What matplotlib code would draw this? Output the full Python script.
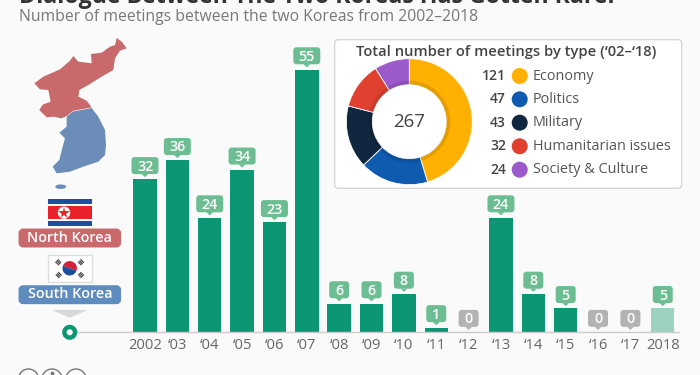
import matplotlib
matplotlib.use('Agg')
import matplotlib.pyplot as plt
from matplotlib.patches import Circle, Ellipse, FancyBboxPatch, Polygon, Rectangle, Wedge

plt.rcParams['font.family'] = ['Open Sans', 'DejaVu Sans']

# Data
years = ['2002', '‘03', '‘04', '‘05', '‘06', '‘07', '‘08', '‘09', '‘10', '‘11', '‘12',
         '‘13', '‘14', '‘15', '‘16', '‘17', '2018']
meetings = [32, 36, 24, 34, 23, 55, 6, 6, 8, 1, 0, 24, 8, 5, 0, 0, 5]
types = ['Economy', 'Politics', 'Military', 'Humanitarian issues', 'Society & Culture']
type_counts = [121, 47, 43, 32, 24]
type_colors = ['#ffb000', '#0f5bb0', '#10273f', '#e0402f', '#9b59c9']

BG = '#fafafa'
GREEN = '#0d9673'
LIGHT = '#9dd2c0'
LABEL_GREEN = '#6dbd93'
LABEL_GREY = '#b3b3b3'

fig = plt.figure(figsize=(7, 3.75), dpi=100, facecolor=BG)

# Overlay in pixel coordinates for the decoration
bg = fig.add_axes([0, 0, 1, 1])
bg.set_xlim(0, 700)
bg.set_ylim(375, 0)
bg.axis('off')

bg.text(19, 3, 'Dialogue Between The Two Koreas Has Gotten Rarer', fontsize=16.7,
        fontweight='bold', color='#333333', va='baseline', ha='left')
bg.text(19, 17, 'Number of meetings between the two Koreas from 2002–2018', fontsize=11.3,
        color='#787878', va='center', ha='left')

# Map
north = [(43, 160), (70, 140), (120, 118), (150, 92), (160, 78), (175, 95), (215, 100), (213, 72),
         (245, 68), (270, 50), (285, 45), (290, 24), (305, 35), (320, 55), (300, 62), (285, 85),
         (280, 120), (245, 140), (205, 165), (178, 180), (175, 200), (200, 212), (215, 232),
         (185, 238), (160, 242), (140, 258), (125, 265), (100, 260), (80, 262), (58, 240),
         (68, 224), (92, 215), (88, 195), (85, 180), (60, 178)]
south = [(215, 234), (235, 260), (255, 300), (258, 345), (255, 375), (235, 395), (190, 410),
         (150, 425), (110, 430), (98, 410), (118, 390), (128, 350), (135, 325), (118, 308),
         (140, 290), (140, 260), (160, 244), (185, 240)]
bg.add_patch(Polygon([(20 + x / 3, 30 + y / 3) for x, y in north], fc='#c8696b', ec='none'))
bg.add_patch(Polygon([(20 + x / 3, 30 + y / 3) for x, y in south], fc='#6c8db8', ec='none'))
bg.add_patch(Ellipse((60.7, 186.7), 11, 4.5, fc='#6c8db8', ec='none'))

# North Korean flag
bg.add_patch(Rectangle((47.7, 199.3), 44, 26.4, fc='#1c4f9c', ec='none'))
bg.add_patch(Rectangle((47.7, 204), 44, 17, fc='white', ec='none'))
bg.add_patch(Rectangle((47.7, 206), 44, 13, fc='#e8212b', ec='none'))
bg.add_patch(Circle((64, 212.7), 6.2, fc='white', ec='none'))
bg.plot([64], [212.7], marker='*', ms=9, color='#e8212b', mew=0)

# South Korean flag
bg.add_patch(Rectangle((47.5, 254.5), 44.5, 27, fc='white', ec='#dddddd', lw=1))
bg.add_patch(Wedge((69.7, 268.3), 7.2, 200, 380, fc='#d5203a', ec='none'))
bg.add_patch(Wedge((69.7, 268.3), 7.2, 20, 200, fc='#1c4f9c', ec='none'))
for cx, cy, dx, dy in [(58.3, 262.3, 1, -1), (81, 262.3, 1, 1), (58.7, 275, 1, 1), (81, 275, 1, -1)]:
    for k in (-1.7, 0, 1.7):
        mx, my = cx + k * -dy * 0.7, cy + k * dx * 0.7
        bg.plot([mx - 2.4 * dx * 0.7, mx + 2.4 * dx * 0.7], [my - 2.4 * dy * 0.7, my + 2.4 * dy * 0.7],
                color='#444444', lw=0.9, solid_capstyle='butt')

# Country labels
for y0, name, col in [(229.3, 'North Korea', '#c8696b'), (286, 'South Korea', '#5f8cbf')]:
    bg.add_patch(FancyBboxPatch((21.3, y0 + 2), 97, 13.4, boxstyle='round,pad=0,rounding_size=2',
                                mutation_aspect=1, fc=col, ec=col, lw=4))
    bg.text(69.8, y0 + 8.4, name, color='white', fontsize=10.3, fontweight='semibold',
            ha='center', va='center')

bg.add_patch(Polygon([(51.7, 310), (87.7, 310), (69.7, 317.7)], fc='#d8d8d8', ec='none'))

# Icons cut off by the bottom edge
for cx in (28.5, 52, 76):
    bg.add_patch(Circle((cx, 379), 10, fc='none', ec='#777777', lw=1))
bg.plot([52], [372.5], marker='o', ms=1.8, color='#777777')

# Bars: 2002 sits at 145 px, 32.36 px per year, 4.775 px per meeting
left_px, right_px, top_px, base_px = 70, 679, 40, 332.3
ax = fig.add_axes([left_px / 700, 1 - base_px / 375, (right_px - left_px) / 700, (base_px - top_px) / 375])
ax.patch.set_alpha(0)
ax.set_xlim((left_px - 145) / 32.36, (right_px - 145) / 32.36)
ax.set_ylim(0, (base_px - top_px) / 4.775)
xs = list(range(len(meetings)))
colors = [GREEN] * (len(meetings) - 1) + [LIGHT]
ax.bar(xs, meetings, width=0.725, color=colors, zorder=2)
for s in ['top', 'left', 'right']:
    ax.spines[s].set_visible(False)
ax.spines['bottom'].set_color('#cccccc')
ax.spines['bottom'].set_linewidth(1)
ax.set_yticks([])
ax.set_xticks(xs)
ax.set_xticklabels(years, fontsize=10.6, color='#666666')
ax.tick_params(axis='x', length=0, pad=4)

# Second overlay, above the bars
ring = fig.add_axes([0, 0, 1, 1])
ring.set_xlim(0, 700)
ring.set_ylim(375, 0)
ring.axis('off')

# Value flags above the bars, placed from the bar axes' own scale
for x, v in zip(xs, meetings):
    col = LABEL_GREEN if v > 0 else LABEL_GREY
    px, py = ax.transData.transform((x, v))
    py = 375 - py
    w = 25 if v >= 10 else 18
    ring.add_patch(FancyBboxPatch((px - w / 2, py - 21.4), w, 15, boxstyle='round,pad=1,rounding_size=3',
                                  fc=col, ec='none'))
    ring.add_patch(Polygon([(px - 3.5, py - 5.6), (px + 3.5, py - 5.6), (px, py - 2.3)], fc=col, ec='none'))
    ring.text(px, py - 8.9, str(v), color='white', fontsize=10.3, fontweight='semibold',
              ha='center', va='baseline')

# Ring marker at the start of the axis
ring.add_patch(Circle((69.7, base_px), 5.3, fc='white', ec=GREEN, lw=3.2))

# Donut panel
ring.add_patch(FancyBboxPatch((336.7, 41.7), 343, 144.6, boxstyle='round,pad=2,rounding_size=4',
                              fc='white', ec='#cfcfcf', lw=0.8))
ring.text(506, 52.3, 'Total number of meetings by type (‘02–‘18)', fontsize=10.6, fontweight='semibold',
          color='#444444', ha='center', va='center')
rows_y = [76, 99.3, 122.7, 146.3, 169.7]
for y, name, n, col in zip(rows_y, types, type_counts, type_colors):
    ring.text(506, y, str(n), fontsize=10, fontweight='semibold', color='#444444', ha='right', va='center')
    ring.add_patch(Circle((519.7, y), 8, fc=col, ec='none'))
    ring.text(532.7, y, name, fontsize=10.4, color='#555555', ha='left', va='center')

cx, cy, half = 409.3, 121.7, 70
pie = fig.add_axes([(cx - half) / 700, 1 - (cy + half) / 375, 2 * half / 700, 2 * half / 375])
pie.patch.set_alpha(0)
pie.pie(type_counts, colors=type_colors, startangle=90, counterclock=False, radius=63,
        wedgeprops=dict(width=26, edgecolor='white', linewidth=0.6))
pie.pie(type_counts, colors=[(0, 0, 0, 0.1)] * 5, startangle=90, counterclock=False, radius=41,
        wedgeprops=dict(width=4, edgecolor='none'))
pie.set_xlim(-half, half)
pie.set_ylim(-half, half)
pie.text(0, 0, str(sum(type_counts)), fontsize=13.5, color='#444444', ha='center', va='center')

fig.savefig('out.png', dpi=100, facecolor=BG)
